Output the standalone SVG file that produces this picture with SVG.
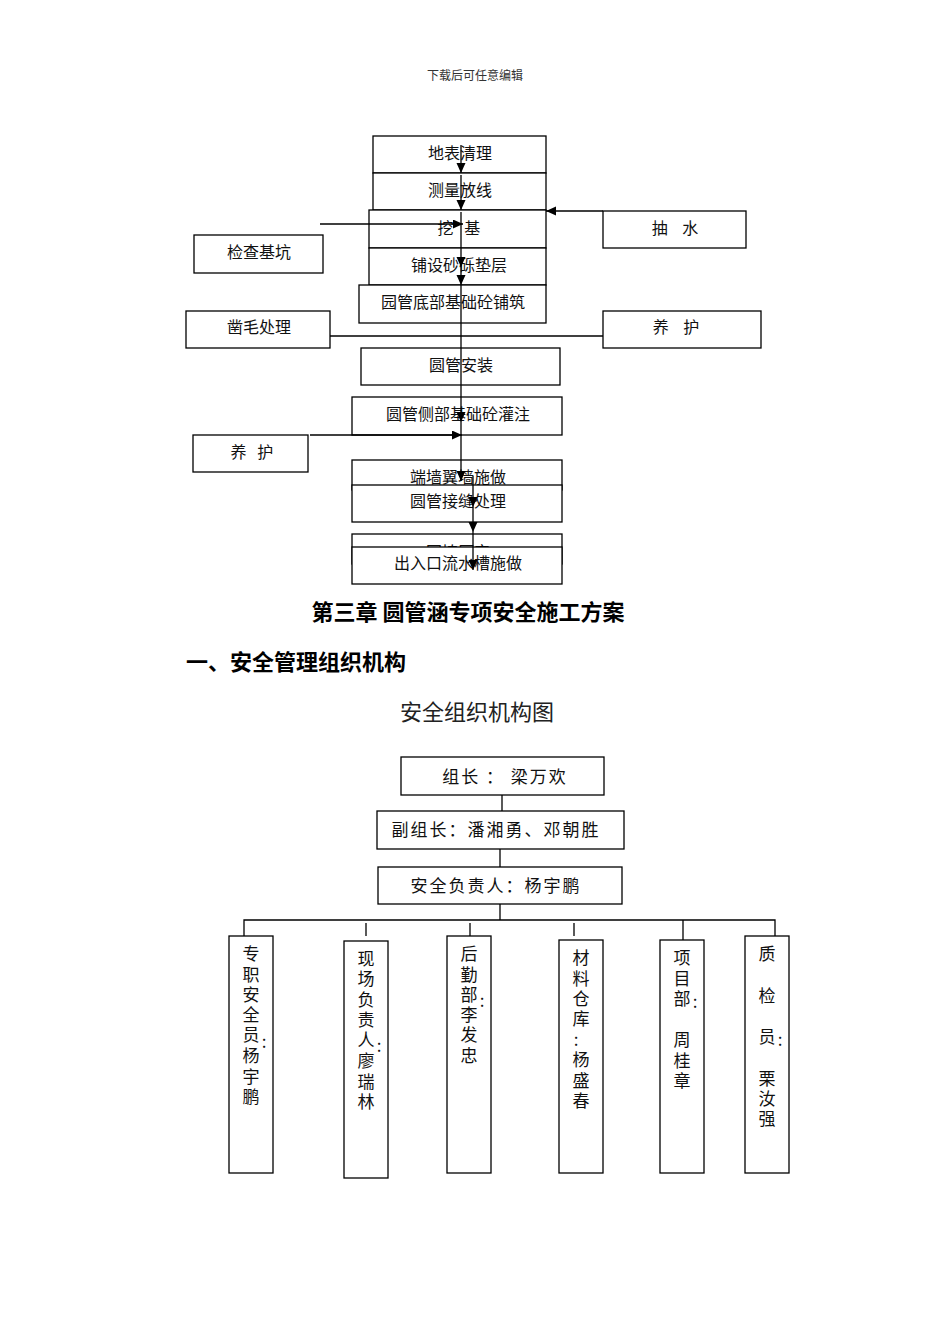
<svg xmlns="http://www.w3.org/2000/svg" width="950" height="1344" viewBox="0 0 950 1344">
<style>
.bx{fill:#fff;stroke:#000;stroke-width:1.3}
.t{font-family:"Noto Sans CJK SC","Liberation Sans",sans-serif;font-size:16px;fill:#111;text-anchor:middle;dominant-baseline:central}
.o{font-family:"Noto Sans CJK SC","Liberation Sans",sans-serif;font-size:17px;fill:#111;text-anchor:middle;dominant-baseline:central;letter-spacing:2px}
.v{font-family:"Noto Sans CJK SC","Liberation Sans",sans-serif;font-size:17px;fill:#111;text-anchor:middle;dominant-baseline:central}
.ln{stroke:#000;stroke-width:1.3;fill:none}
.h{font-family:"Noto Sans CJK SC","Liberation Sans",sans-serif;font-weight:bold;fill:#000;dominant-baseline:central}
</style>
<defs>
<marker id="ar" markerUnits="userSpaceOnUse" markerWidth="10" markerHeight="10" refX="10" refY="4.5" orient="auto"><path d="M0,0 L10,4.5 L0,9 z" fill="#000"/></marker>
</defs>
<rect width="950" height="1344" fill="#fff"/>
<text x="475" y="74" style="font-family:'Noto Sans CJK SC',sans-serif;font-size:12px;fill:#333;text-anchor:middle;dominant-baseline:central">下载后可任意编辑</text>

<g id="n1"><rect class="bx" x="373" y="136" width="173" height="37"/><text class="t" x="460" y="152">地表清理</text></g>
<g id="n2"><rect class="bx" x="373" y="173" width="173" height="37"/><text class="t" x="460" y="189">测量放线</text></g>
<g id="n3"><rect class="bx" x="369" y="210" width="177" height="38"/><text class="t" x="459" y="227" xml:space="preserve">挖   基</text></g>
<g id="n4"><rect class="bx" x="603" y="211" width="143" height="37"/><text class="t" x="675" y="227" xml:space="preserve">抽    水</text></g>
<g id="n5"><rect class="bx" x="194" y="235" width="129" height="38"/><text class="t" x="259" y="251">检查基坑</text></g>
<g id="n6"><rect class="bx" x="369" y="248" width="177" height="37"/><text class="t" x="459" y="264">铺设砂砾垫层</text></g>
<g id="n7"><rect class="bx" x="359" y="285" width="187" height="38"/><text class="t" x="453" y="301">园管底部基础砼铺筑</text></g>
<g id="n8"><rect class="bx" x="186" y="311" width="144" height="37"/><text class="t" x="259" y="326">凿毛处理</text></g>
<g id="n9"><rect class="bx" x="603" y="311" width="158" height="37"/><text class="t" x="676" y="326" xml:space="preserve">养    护</text></g>
<g id="n10"><rect class="bx" x="361" y="348" width="199" height="37"/><text class="t" x="461" y="364">圆管安装</text></g>
<g id="n11"><rect class="bx" x="352" y="397" width="210" height="38"/><text class="t" x="458" y="413">圆管侧部基础砼灌注</text></g>
<g id="n12"><rect class="bx" x="193" y="435" width="115" height="37"/><text class="t" x="252" y="451" xml:space="preserve">养   护</text></g>
<g id="n13"><rect class="bx" x="352" y="460" width="210" height="30"/><text class="t" x="458" y="476">端墙翼墙施做</text></g>
<g id="n14"><rect class="bx" x="352" y="485" width="210" height="37"/><text class="t" x="458" y="500">圆管接缝处理</text></g>
<g id="n15"><rect class="bx" x="352" y="534" width="210" height="30"/><text class="t" x="458" y="551">回填压实</text></g>
<g id="n16"><rect class="bx" x="352" y="547" width="210" height="37"/><text class="t" x="458" y="562">出入口流水槽施做</text></g>

<g id="connectors">
<path class="ln" d="M461,145 L461,173" marker-end="url(#ar)"/>
<path class="ln" d="M461,175 L461,210" marker-end="url(#ar)"/>
<path class="ln" d="M461,212 L461,267" marker-end="url(#ar)"/>
<path class="ln" d="M461,267 L461,285" marker-end="url(#ar)"/>
<path class="ln" d="M461,285 L461,422" marker-end="url(#ar)"/>
<path class="ln" d="M461,422 L461,481" marker-end="url(#ar)"/>
<path class="ln" d="M473,476 L473,507" marker-end="url(#ar)"/>
<path class="ln" d="M473,507 L473,532" marker-end="url(#ar)"/>
<path class="ln" d="M473,532 L473,570" marker-end="url(#ar)"/>
<path class="ln" d="M320,224 L463,224" marker-end="url(#ar)"/>
<path class="ln" d="M603,211 L546,211" marker-end="url(#ar)"/>
<path class="ln" d="M330,336 L603,336"/>
<path class="ln" d="M310,435 L462,435" marker-end="url(#ar)"/>
</g>

<text class="h" x="468" y="610" style="font-size:22px;text-anchor:middle">第三章 圆管涵专项安全施工方案</text>
<text class="h" x="186" y="660" style="font-size:22px">一、安全管理组织机构</text>
<text x="477" y="710" style="font-family:'Noto Sans CJK SC',sans-serif;font-size:22px;fill:#222;text-anchor:middle;dominant-baseline:central">安全组织机构图</text>

<g id="o1"><rect class="bx" x="401" y="757" width="203" height="38"/><text class="o" x="505" y="775" xml:space="preserve">组长 ： 梁万欢</text></g>
<g id="o2"><rect class="bx" x="377" y="811" width="247" height="38"/><text class="o" x="496" y="828">副组长：潘湘勇、邓朝胜</text></g>
<g id="o3"><rect class="bx" x="378" y="867" width="244" height="37"/><text class="o" x="496" y="884">安全负责人：杨宇鹏</text></g>

<g id="o4"><rect class="bx" x="229" y="936" width="44" height="237"/>
<text class="v" x="251" y="952">专</text><text class="v" x="251" y="973">职</text><text class="v" x="251" y="993">安</text><text class="v" x="251" y="1013">全</text><text class="v" x="251" y="1033">员</text><text class="v" x="264" y="1040">:</text><text class="v" x="251" y="1054">杨</text><text class="v" x="251" y="1075">宇</text><text class="v" x="251" y="1095">鹏</text></g>
<g id="o5"><rect class="bx" x="344" y="941" width="44" height="237"/>
<text class="v" x="366" y="957">现</text><text class="v" x="366" y="977">场</text><text class="v" x="366" y="998">负</text><text class="v" x="366" y="1018">责</text><text class="v" x="366" y="1038">人</text><text class="v" x="379" y="1044">:</text><text class="v" x="366" y="1059">廖</text><text class="v" x="366" y="1080">瑞</text><text class="v" x="366" y="1100">林</text></g>
<g id="o6"><rect class="bx" x="447" y="936" width="44" height="237"/>
<text class="v" x="469" y="952">后</text><text class="v" x="469" y="973">勤</text><text class="v" x="469" y="993">部</text><text class="v" x="482" y="999">:</text><text class="v" x="469" y="1013">李</text><text class="v" x="469" y="1033">发</text><text class="v" x="469" y="1054">忠</text></g>
<g id="o7"><rect class="bx" x="559" y="940" width="44" height="233"/>
<text class="v" x="581" y="956">材</text><text class="v" x="581" y="977">料</text><text class="v" x="581" y="997">仓</text><text class="v" x="581" y="1017">库</text><text class="v" x="576" y="1038">:</text><text class="v" x="581" y="1058">杨</text><text class="v" x="581" y="1079">盛</text><text class="v" x="581" y="1099">春</text></g>
<g id="o8"><rect class="bx" x="660" y="940" width="44" height="233"/>
<text class="v" x="682" y="956">项</text><text class="v" x="682" y="977">目</text><text class="v" x="682" y="997">部</text><text class="v" x="695" y="1000">:</text><text class="v" x="682" y="1038">周</text><text class="v" x="682" y="1059">桂</text><text class="v" x="682" y="1079">章</text></g>
<g id="o9"><rect class="bx" x="745" y="936" width="44" height="237"/>
<text class="v" x="767" y="952">质</text><text class="v" x="767" y="994">检</text><text class="v" x="767" y="1035">员</text><text class="v" x="780" y="1038">:</text><text class="v" x="767" y="1077">栗</text><text class="v" x="767" y="1097">汝</text><text class="v" x="767" y="1117">强</text></g>

<g id="org-connectors">
<path class="ln" d="M502,795 L502,811"/>
<path class="ln" d="M500,849 L500,867"/>
<path class="ln" d="M500,904 L500,920"/>
<path class="ln" d="M244,936 L244,920 L775,920 L775,936"/>
<path class="ln" d="M366,923 L366,936"/>
<path class="ln" d="M470,923 L470,936"/>
<path class="ln" d="M574,923 L574,936"/>
<path class="ln" d="M683,920 L683,940"/>
</g>
</svg>
